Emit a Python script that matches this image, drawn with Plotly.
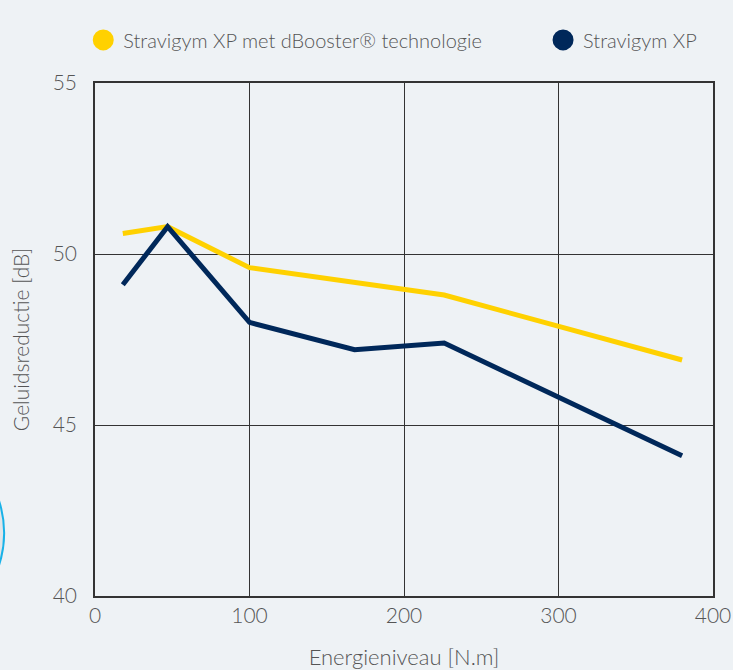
import plotly.graph_objects as go

# Data
series_names = ["Stravigym XP met dBooster® technologie", "Stravigym XP"]
x_dbooster = [18, 47, 100, 226, 380]
y_dbooster = [50.6, 50.8, 49.6, 48.8, 46.9]
x_xp = [18, 47, 100, 168, 226, 380]
y_xp = [49.1, 50.8, 48.0, 47.2, 47.4, 44.1]
x_ticks = [0, 100, 200, 300, 400]
y_ticks = [40, 45, 50, 55]

YELLOW = "#FFD100"
NAVY = "#00285A"
BG = "#EEF2F5"
TXT = "#555555"
GRID = "#333333"
FONT = "Lato"
W = 300

fig = go.Figure()

fig.add_trace(go.Scatter(x=x_dbooster, y=y_dbooster, mode="lines",
                         line=dict(color=YELLOW, width=5), showlegend=False,
                         legendgroup="a"))
fig.add_trace(go.Scatter(x=x_xp, y=y_xp, mode="lines",
                         line=dict(color=NAVY, width=5), showlegend=False,
                         legendgroup="b"))
# legend entries with round symbols
fig.add_trace(go.Scatter(x=[None], y=[None], mode="markers", name=series_names[0],
                         marker=dict(size=16, color=YELLOW, line=dict(color=YELLOW, width=5)),
                         legendgroup="a", legend="legend"))
fig.add_trace(go.Scatter(x=[None], y=[None], mode="markers", name=series_names[1],
                         marker=dict(size=16, color=NAVY, line=dict(color=NAVY, width=5)),
                         legendgroup="b", legend="legend2"))

legend_style = dict(orientation="h", xanchor="left", y=1.084, yanchor="middle",
                    font=dict(size=20, color=TXT, family=FONT, weight=W),
                    bgcolor="rgba(0,0,0,0)")

fig.update_layout(
    width=733, height=670,
    margin=dict(l=95, r=20, t=83, b=74),
    paper_bgcolor=BG, plot_bgcolor=BG,
    font=dict(family=FONT, color=TXT, size=17, weight=W),
    legend=dict(x=-0.019, **legend_style),
    legend2=dict(x=0.725, **legend_style),
    shapes=[dict(type="circle", xref="paper", yref="paper",
                 x0=-0.482, x1=-0.147, y0=-0.079, y1=0.3246,
                 line=dict(color="#19B2E8", width=2), fillcolor="#E2E5E8",
                 layer="below")],
)

fig.update_xaxes(range=[0, 400], tickvals=x_ticks, showgrid=True, gridcolor=GRID,
                 gridwidth=1, showline=True, linecolor=GRID, linewidth=1.5, mirror=True,
                 zeroline=False, ticks="", ticklabelstandoff=0, automargin=False,
                 tickfont=dict(size=21, color=TXT, family=FONT, weight=W),
                 title=dict(text="Energieniveau [N.m]", standoff=29,
                            font=dict(size=22, color=TXT, family=FONT, weight=W)))
fig.update_yaxes(range=[40, 55], tickvals=y_ticks, showgrid=True, gridcolor=GRID,
                 gridwidth=1, showline=True, linecolor=GRID, linewidth=1.5, mirror=True,
                 zeroline=False, ticks="", ticklabelstandoff=12, automargin=False,
                 tickfont=dict(size=21, color=TXT, family=FONT, weight=W),
                 title=dict(text="Geluidsreductie [dB]", standoff=17,
                            font=dict(size=21, color=TXT, family=FONT, weight=W)))

fig.write_html("out.html", config={"displayModeBar": False},
               post_script="document.body.style.margin='0';document.body.style.overflow='hidden';")
